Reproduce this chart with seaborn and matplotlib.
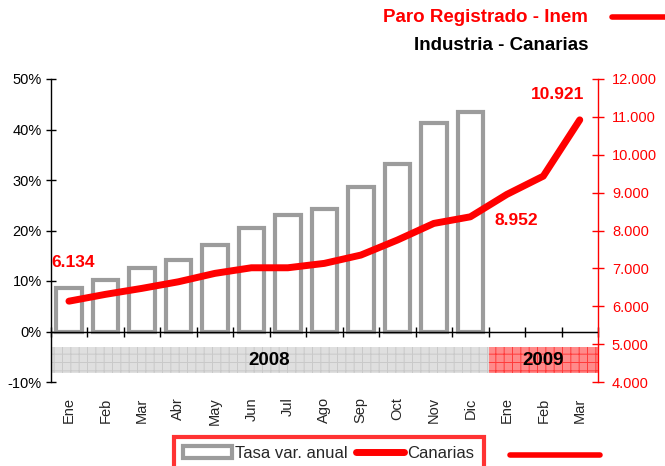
import matplotlib
matplotlib.use("Agg")
import matplotlib.pyplot as plt
from matplotlib.patches import Patch
from matplotlib.lines import Line2D
import numpy as np
import pandas as pd
import seaborn as sns

# data
months = ['Ene', 'Feb', 'Mar', 'Abr', 'May', 'Jun', 'Jul', 'Ago', 'Sep', 'Oct', 'Nov', 'Dic',
          'Ene', 'Feb', 'Mar']
years = ['2008', '2009']
months_per_year = [12, 3]
tasa = [8.7, 10.1, 12.6, 14.2, 17.1, 20.5, 23.0, 24.3, 28.6, 33.1, 41.2, 43.5]
canarias = [6134, 6314, 6472, 6646, 6868, 7016, 7016, 7132, 7351, 7747, 8187, 8361,
            8952, 9435, 10921]
labelled = {0: (3, 28), 12: (7, -19), 14: (-16, 18)}

sns.set_style('white')
plt.rcParams['font.family'] = ['Liberation Sans', 'DejaVu Sans']
plt.rcParams['hatch.linewidth'] = 0.7

keys = [f'{m} {years[0] if i < 12 else years[1]}' for i, m in enumerate(months)]
df_bars = pd.DataFrame({'mes': keys[:len(tasa)], 'tasa': tasa})
df_line = pd.DataFrame({'pos': np.arange(len(canarias)), 'canarias': canarias})

fig = plt.figure(figsize=(6.65, 4.66), dpi=100)
ax = fig.add_axes([50.7 / 665, 1 - 382 / 466, (598 - 50.7) / 665, (382 - 79) / 466])

# year bands under the axis
start = -0.5
band_styles = [('#dfdfdf', '#c9c9c9'), ('#ff8a8a', '#ff3a3a')]
for yr, n, (fc, hc) in zip(years, months_per_year, band_styles):
    ax.fill_between([start, start + n], -8.3, -3.0, facecolor=fc, edgecolor=hc,
                    hatch='++', linewidth=0, zorder=1)
    ax.text(start + n / 2, -5.65, yr, ha='center', va='center', fontsize=13.5,
            fontweight='bold', color='black', zorder=2)
    start += n

sns.barplot(data=df_bars, x='mes', y='tasa', order=keys, color='white',
            edgecolor='#9c9c9c', linewidth=3, width=0.7, ax=ax, zorder=3)

ax.set_xlim(-0.5, len(months) - 0.5)
ax.set_ylim(-10, 50)
ax.set_yticks(np.arange(-10, 51, 10))
ax.set_yticklabels([f'{v:d}%' for v in np.arange(-10, 51, 10)], fontsize=10.5)
ax.set_xticks(np.arange(len(months)))
ax.set_xticklabels(months, rotation=90, fontsize=10.5, va='top')
ax.tick_params(axis='x', length=0, pad=11)
ax.tick_params(axis='y', direction='inout', length=7, width=1, pad=3, colors='black')
ax.set_xlabel('')
ax.set_ylabel('')
for s in ['top', 'right', 'bottom']:
    ax.spines[s].set_visible(False)
ax.spines['left'].set_color('black')
ax.spines['left'].set_linewidth(1)
ax.axhline(0, color='black', lw=1, zorder=4)

# boundary ticks on the zero line
secax = ax.secondary_xaxis(10 / 60)
secax.set_xticks(np.arange(-0.5, len(months), 1))
secax.set_xticklabels([])
secax.tick_params(direction='inout', length=7, width=1, colors='black')
for s in secax.spines.values():
    s.set_color('black')

ax2 = ax.twinx()
sns.lineplot(data=df_line, x='pos', y='canarias', color='#ff0000', linewidth=5,
             solid_capstyle='round', solid_joinstyle='round', ax=ax2)
ax2.set_ylim(4000, 12000)
ax2.set_yticks(np.arange(4000, 12001, 1000))
ax2.set_yticklabels([f'{v:,.0f}'.replace(',', '.') for v in np.arange(4000, 12001, 1000)],
                    fontsize=10.5, color='#ff0000')
ax2.tick_params(axis='y', direction='inout', length=8, width=1, pad=6, colors='#ff0000')
ax2.set_xlim(-0.5, len(months) - 0.5)
ax2.set_xlabel('')
ax2.set_ylabel('')
for s in ['top', 'left', 'bottom']:
    ax2.spines[s].set_visible(False)
ax2.spines['right'].set_color('#ff0000')
ax2.spines['right'].set_linewidth(1)

for i, (dx, dy) in labelled.items():
    ax2.annotate(f'{canarias[i]:,.0f}'.replace(',', '.'), (i, canarias[i]),
                 xytext=(dx, dy), textcoords='offset points', ha='center', va='center',
                 fontsize=12.5, fontweight='bold', color='#ff0000')

fig.text(588 / 665, 1 - 18 / 466, 'Paro Registrado - Inem', ha='right', va='center',
         fontsize=13.5, fontweight='bold', color='#ff0000')
fig.text(588 / 665, 1 - 45 / 466, 'Industria - Canarias', ha='right', va='center',
         fontsize=13.5, fontweight='bold', color='black')
fig.add_artist(Line2D([612 / 665, 1.0], [1 - 17 / 466, 1 - 17 / 466],
                      color='#ff0000', lw=4, transform=fig.transFigure))
fig.add_artist(Line2D([510 / 665, 600 / 665], [1 - 455 / 466, 1 - 455 / 466],
                      color='#ff0000', lw=4, transform=fig.transFigure))

handles = [Patch(facecolor='white', edgecolor='#9c9c9c', linewidth=3),
           Line2D([0], [0], color='#ff0000', lw=5, solid_capstyle='round')]
leg = fig.legend(handles, ['Tasa var. anual', 'Canarias'], loc='upper left',
                 bbox_to_anchor=(174 / 665, 1 - 437 / 466), ncol=2, fontsize=12,
                 frameon=True, fancybox=False, borderpad=0.55, handlelength=2.9,
                 handletextpad=0.2, columnspacing=0.5, borderaxespad=0)
leg.get_frame().set_edgecolor('#ff0000')
leg.get_frame().set_linewidth(3)

fig.savefig('out.png', dpi=100)
